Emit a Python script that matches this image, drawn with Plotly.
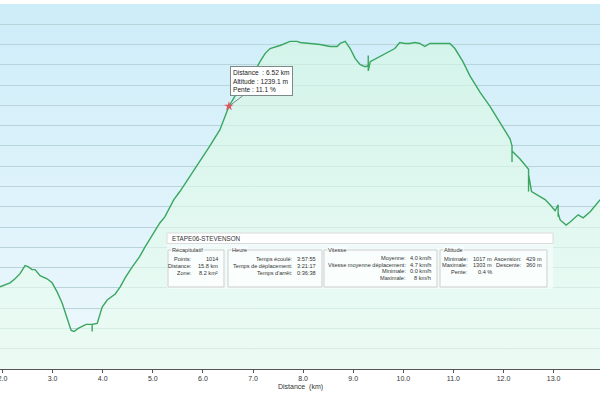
import plotly.graph_objects as go

# ---------------- data ----------------
distance_km = [1.95, 2.15, 2.25, 2.35, 2.45, 2.51, 2.59, 2.65, 2.75, 2.89, 2.99, 3.09, 3.19, 3.29,
               3.37, 3.43, 3.51, 3.59, 3.67, 3.79, 3.79, 3.79, 3.89, 3.99, 4.09, 4.25, 4.35, 4.45,
               4.58, 4.74, 4.84, 4.94, 5.04, 5.14, 5.24, 5.34, 5.42, 5.54, 5.74, 5.94, 6.14, 6.34,
               6.52, 6.64, 6.84, 7.04, 7.14, 7.24, 7.34, 7.54, 7.74, 7.88, 7.94, 8.14, 8.34, 8.54,
               8.68, 8.74, 8.84, 8.94, 9.04, 9.14, 9.24, 9.30, 9.30, 9.30, 9.34, 9.54, 9.73, 9.83,
               9.93, 10.03, 10.13, 10.23, 10.33, 10.43, 10.53, 10.73, 10.93, 11.03, 11.19, 11.33,
               11.53, 11.73, 11.93, 12.13, 12.17, 12.17, 12.17, 12.33, 12.50, 12.50, 12.50, 12.56,
               12.73, 12.83, 12.93, 13.03, 13.09, 13.09, 13.09, 13.13, 13.25, 13.33, 13.49, 13.59,
               13.73, 13.93]
altitude_m = [1061, 1065, 1069, 1074, 1082, 1081, 1078, 1078, 1072, 1069, 1065, 1056, 1045, 1030,
              1018, 1017, 1020, 1022, 1024, 1024, 1017, 1024, 1025, 1041, 1048, 1054, 1061, 1070,
              1080, 1091, 1100, 1108, 1115, 1124, 1130, 1139, 1147, 1155, 1170, 1184, 1200, 1216,
              1239.1, 1249, 1261, 1274, 1283, 1291, 1296, 1299, 1303, 1303, 1302, 1301, 1300, 1298,
              1298, 1301, 1303, 1296, 1286, 1280, 1278, 1279, 1289, 1274, 1283, 1288, 1293, 1296,
              1302, 1301, 1301, 1302, 1301, 1298, 1301, 1301, 1301, 1296, 1283, 1269,
              1253, 1239, 1223, 1207, 1200, 1184, 1195, 1187, 1177, 1155, 1172, 1155,
              1150, 1147, 1142, 1136, 1142, 1130, 1134, 1127, 1122, 1125, 1132, 1129,
              1135, 1147]

x_ticks = [2.0, 3.0, 4.0, 5.0, 6.0, 7.0, 8.0, 9.0, 10.0, 11.0, 12.0, 13.0, 14.0]
x_tick_labels = ["2.0", "3.0", "4.0", "5.0", "6.0", "7.0", "8.0", "9.0", "10.0", "11.0", "12.0", "13.0", "14.0"]
x_title = "Distance  (km)"

hover_distance = 6.52
hover_altitude = 1239.1
hover_slope = 11.1

track_name = "ETAPE06-STEVENSON"
recap_labels = ["Points:", "Distance:", "Zone:"]
recap_values = ["1014", "15.8 km", "8.2 km²"]
time_labels = ["Temps écoulé:", "Temps de déplacement:", "Temps d'arrêt:"]
time_values = ["3:57:55", "3:21:17", "0:36:38"]
speed_labels = ["Moyenne:", "Vitesse moyenne déplacement:", "Minimale:", "Maximale:"]
speed_values = ["4.0 km/h", "4.7 km/h", "0.0 km/h", "8 km/h"]
alt_labels = ["Minimale:", "Maximale:", "Pente:"]
alt_values = ["1017 m", "1303 m", "0.4 %"]
alt_labels2 = ["Ascension:", "Descente:"]
alt_values2 = ["429 m", "360 m"]

# ---------------- layout geometry helpers ----------------
W, H = 600, 393
T, B = 4, 24
PLOT_H = H - T - B
Y_BOTTOM = H - B


def px(x):
    return x / W


def py(y):
    return (Y_BOTTOM - y) / PLOT_H


FONT = "Liberation Sans, Arial, sans-serif"
TXT = "#333333"
SMALL = 5.6

fig = go.Figure()

fig.add_trace(go.Scatter(
    x=distance_km, y=altitude_m, mode="lines",
    line=dict(color="#3aa660", width=1.4),
    fill="tozeroy",
    fillgradient=dict(type="vertical", start=980, stop=1340,
                      colorscale=[[0, "rgba(235,253,240,0.62)"], [1, "rgba(212,247,224,0.62)"]]),
    hoverinfo="skip", showlegend=False,
))

fig.add_trace(go.Scatter(
    x=[hover_distance], y=[hover_altitude], mode="markers",
    marker=dict(symbol="star", size=7, color="#e8505a", line=dict(width=0)),
    hoverinfo="skip", showlegend=False,
))

bg_svg = ("data:image/svg+xml;utf8,"
          "<svg xmlns='http://www.w3.org/2000/svg' width='10' height='100' preserveAspectRatio='none'>"
          "<defs><linearGradient id='g' x1='0' y1='0' x2='0' y2='1'>"
          "<stop offset='0' stop-color='%23cdedf9'/><stop offset='1' stop-color='%23eef8fc'/>"
          "</linearGradient></defs><rect width='10' height='100' fill='url(%23g)'/></svg>")

fig.update_layout(
    width=W, height=H,
    margin=dict(l=0, r=0, t=T, b=B, autoexpand=False),
    paper_bgcolor="white",
    plot_bgcolor="rgba(0,0,0,0)",
    images=[dict(source=bg_svg, xref="paper", yref="paper", x=0, y=1, sizex=1, sizey=1,
                 xanchor="left", yanchor="top", sizing="stretch", layer="below")],
    font=dict(family=FONT, size=7, color=TXT),
    xaxis=dict(range=[1.95, 13.926], tickvals=x_ticks, ticktext=x_tick_labels, automargin=False,
               ticklabeloverflow="allow",
               showgrid=False, zeroline=False, showline=True, linecolor="#555555", linewidth=1,
               ticks="outside", ticklen=3, tickcolor="#555555",
               tickfont=dict(size=7, color=TXT)),
    yaxis=dict(range=[980, 1339.9], dtick=20, tick0=980, showticklabels=False, automargin=False,
               showgrid=True, gridcolor="#b9d3db", gridwidth=1, zeroline=False, showline=False),
)

shapes = []
ann = []

ann.append(dict(x=px(300), y=py(387), xref="paper", yref="paper", text=x_title, showarrow=False,
                xanchor="center", yanchor="middle", font=dict(size=7, color=TXT)))

# hover callout
ann.append(dict(
    x=hover_distance, y=hover_altitude, xref="x", yref="y",
    text=f"Distance  : {hover_distance:.2f} km<br>Altitude : {hover_altitude:.1f} m<br>Pente : {hover_slope:.1f} %",
    showarrow=True, arrowhead=0, arrowcolor="#7a8a8a", arrowwidth=1,
    ax=33, ay=-25, align="left", font=dict(size=6.6, color="#222222"),
    bgcolor="white", bordercolor="#7a8a8a", borderwidth=1, borderpad=2,
))

# info panel
shapes.append(dict(type="rect", xref="paper", yref="paper", x0=px(167), x1=px(553), y0=py(289), y1=py(233),
                   fillcolor="rgba(246,252,252,0.75)", line=dict(width=0), layer="above"))
shapes.append(dict(type="rect", xref="paper", yref="paper", x0=px(167), x1=px(553), y0=py(243.5), y1=py(233),
                   fillcolor="white", line=dict(color="#dcdcdc", width=1), layer="above"))
ann.append(dict(x=px(170), y=py(238.5), xref="paper", yref="paper", text=track_name, showarrow=False,
                xanchor="left", yanchor="middle", font=dict(size=6.3, color=TXT)))

groups = [
    ("Récapitulatif", 168, 224),
    ("Heure", 228, 322),
    ("Vitesse", 324, 437),
    ("Altitude", 440, 547),
]
for title, gx0, gx1 in groups:
    shapes.append(dict(type="rect", xref="paper", yref="paper", x0=px(gx0), x1=px(gx1), y0=py(287), y1=py(250),
                       fillcolor="rgba(255,255,255,0.6)", line=dict(color="#cfcfcf", width=1), layer="above"))
    ann.append(dict(x=px(gx0 + 3), y=py(250.5), xref="paper", yref="paper", text=title, showarrow=False,
                    xanchor="left", yanchor="middle", font=dict(size=SMALL, color=TXT),
                    bgcolor="rgba(250,253,253,1)", borderpad=0))


def rows(labels, values, label_right, value_right, y0, dy):
    for i, (lb, vl) in enumerate(zip(labels, values)):
        yy = py(y0 + i * dy)
        ann.append(dict(x=px(label_right), y=yy, xref="paper", yref="paper", text=lb, showarrow=False,
                        xanchor="right", yanchor="middle", font=dict(size=SMALL, color=TXT), borderpad=0))
        ann.append(dict(x=px(value_right), y=yy, xref="paper", yref="paper", text=vl, showarrow=False,
                        xanchor="right", yanchor="middle", font=dict(size=SMALL, color=TXT), borderpad=0))


rows(recap_labels, recap_values, 193, 219, 259, 6.8)
rows(time_labels, time_values, 294, 317, 259, 6.8)
rows(speed_labels, speed_values, 407, 432, 258, 6.7)
rows(alt_labels, alt_values, 469, 493, 258.5, 6.8)
rows(alt_labels2, alt_values2, 523, 543, 258.5, 6.8)

fig.update_layout(shapes=shapes, annotations=ann)

fig.write_html("out.html", config={"displayModeBar": False},
               post_script="document.body.style.margin='0px';document.body.style.overflow='hidden';")
